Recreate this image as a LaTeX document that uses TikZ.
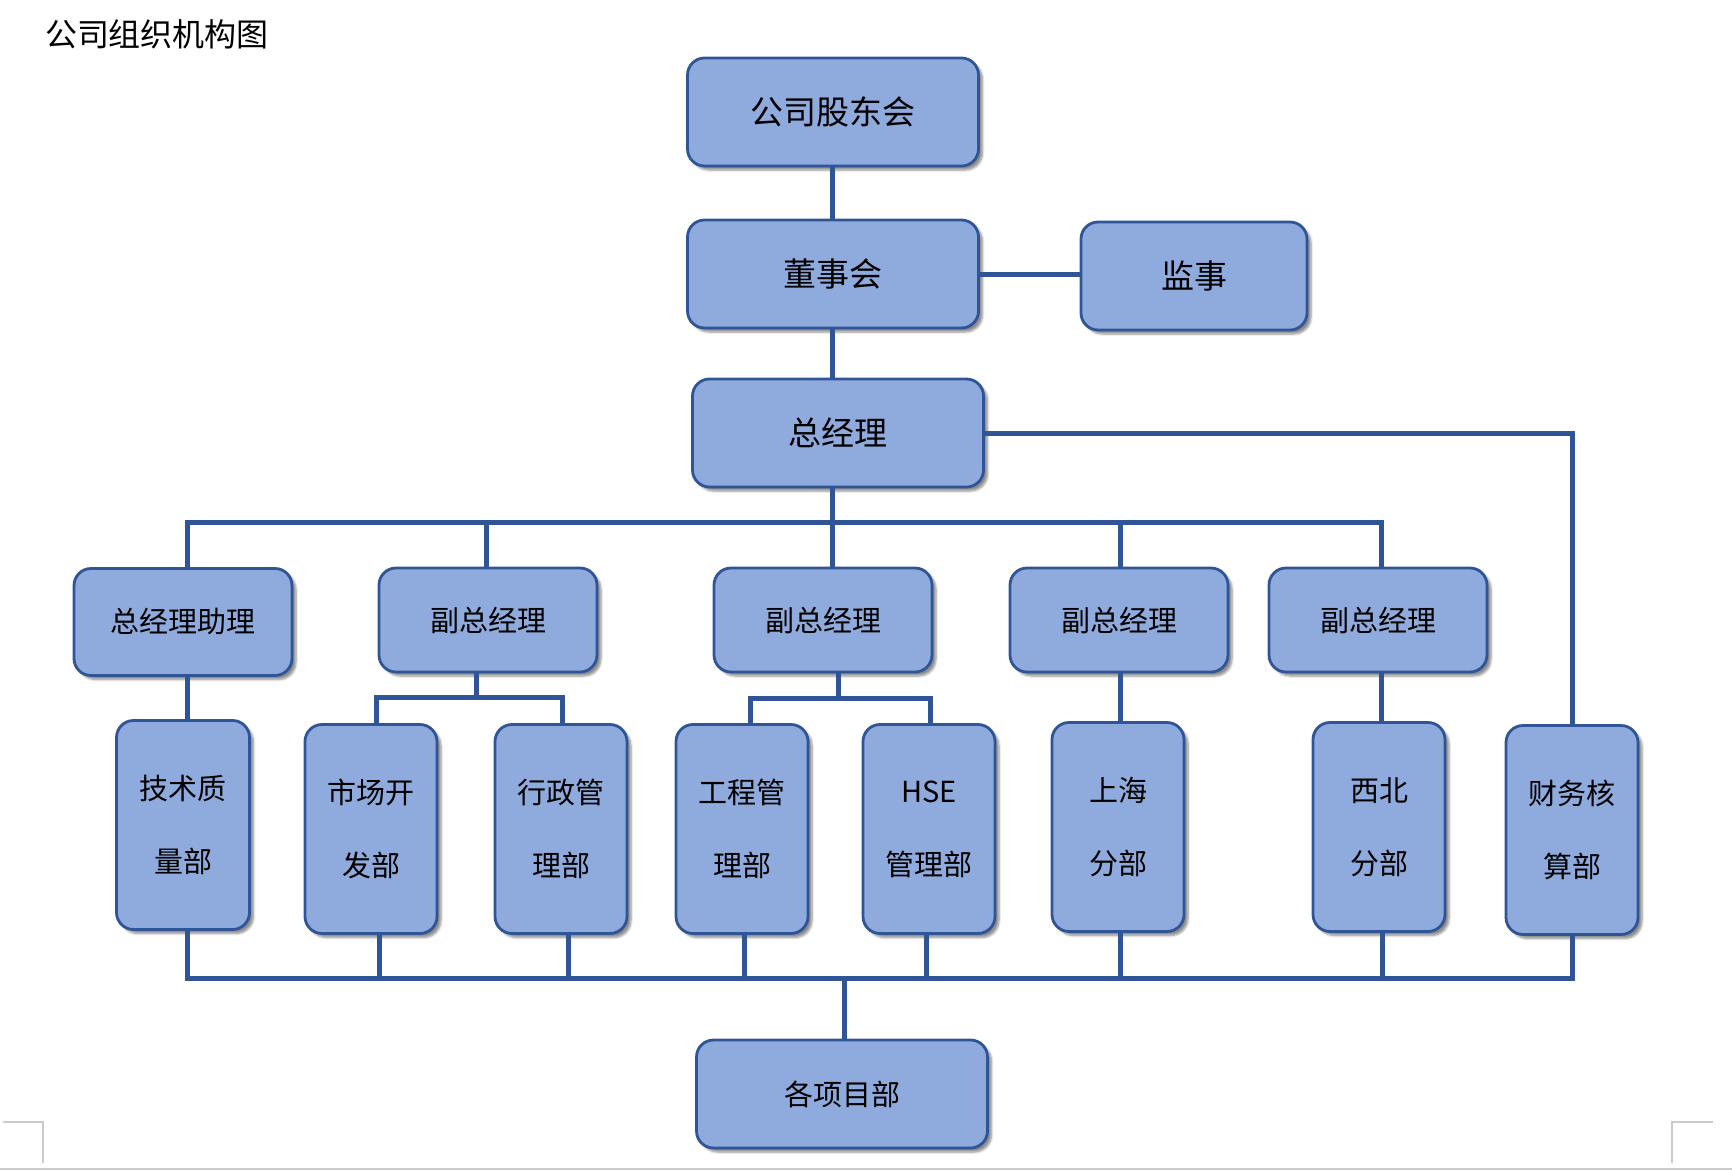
\documentclass[tikz,border=0pt]{standalone}
\usepackage{fontspec}
\setmainfont{Noto Sans CJK SC}
\usepackage{xcolor}
\usepackage{tikz}
\usetikzlibrary{
	calc,
	positioning,
	shadows.blur
}
\definecolor{boxfill}{HTML}{8FAADC}
\definecolor{boxline}{HTML}{2F5597}
\definecolor{pagegray}{HTML}{C8CCCC}
\tikzset{
	orgbox/.style={rectangle,rounded corners=17pt,draw=boxline,line width=2.8pt,fill=boxfill,
		align=center,inner sep=0pt,
		blur shadow={shadow xshift=4pt,shadow yshift=-4pt,shadow blur steps=6,shadow opacity=45}},
	bigbox/.style={orgbox,minimum width=291pt,minimum height=108pt,font=\fontsize{33}{40}\selectfont},
	midbox/.style={orgbox,minimum width=218pt,minimum height=104pt,font=\fontsize{29}{35}\selectfont},
	tallbox/.style={orgbox,minimum width=132pt,minimum height=209pt,font=\fontsize{29}{73}\selectfont},
	link/.style={draw=boxline,line width=5pt},
	cornermark/.style={draw=pagegray,line width=1.5pt}
}
\newcommand{\orgNode}[4][]{\node (#3) at #2 [#1]{#4};}

\begin{document}
\begin{tikzpicture}[x=1pt,y=-1pt]
	\useasboundingbox (0,0) rectangle (1732,1170);
	\node (title) at (157,34) [font=\fontsize{32}{38}\selectfont]{公司组织机构图};

	\orgNode[bigbox]{(833,112)}{gd}{公司股东会}
	\orgNode[bigbox]{(833,274)}{dsh}{董事会}
	\orgNode[bigbox,minimum width=226pt]{(1194,276)}{jsh}{监事}
	\orgNode[bigbox]{(838,433)}{zjl}{总经理}

	\orgNode[midbox,minimum height=107pt]{(183,622)}{zl}{总经理助理}
	\orgNode[midbox]{(488,620)}{fa}{副总经理}
	\orgNode[midbox]{(823,620)}{fb}{副总经理}
	\orgNode[midbox]{(1119,620)}{fc}{副总经理}
	\orgNode[midbox]{(1378,620)}{fd}{副总经理}

	\orgNode[tallbox,minimum width=133pt]{(183,825)}{jszl}{技术质\\量部}
	\orgNode[tallbox]{(371,829)}{sc}{市场开\\发部}
	\orgNode[tallbox]{(561,829)}{xz}{行政管\\理部}
	\orgNode[tallbox]{(742,829)}{gc}{工程管\\理部}
	\orgNode[tallbox]{(929,829)}{hse}{HSE\\管理部}
	\orgNode[tallbox]{(1118,827)}{sh}{上海\\分部}
	\orgNode[tallbox]{(1379,827)}{xb}{西北\\分部}
	\orgNode[tallbox]{(1572,830)}{cw}{财务核\\算部}

	\orgNode[bigbox,font=\fontsize{29}{35}\selectfont]{(842,1094)}{gx}{各项目部}

	\coordinate (bus) at (832,522);
	\coordinate (busa) at (476,697);
	\coordinate (busb) at (838,698);
	\coordinate (bot) at (844,978);

	% top of the chart
	\path[link] (gd.south -| bus) -- (dsh.north -| bus);
	\path[link] (dsh.south -| bus) -- (zjl.north -| bus);
	\path[link] (dsh.east) -- (dsh.east -| jsh.west);
	\path[link] (zjl.east) -| (cw.north);
	\path[link] (zjl.south -| bus) -- (bus) -- (fb.north -| bus);
	\foreach \n/\dx in {zl/4,fa/-2,fc/1,fd/3}
		\path[link] ([xshift=\dx pt]\n.north) |- (bus);

	% departments
	\path[link] ([xshift=4pt]zl.south) -- ([xshift=4pt]jszl.north);
	\path[link] (fa.south -| busa) -- (busa);
	\path[link] ([xshift=5pt]sc.north) |- (busa) -| ([xshift=1pt]xz.north);
	\path[link] (fb.south -| busb) -- (busb);
	\path[link] ([xshift=8pt]gc.north) |- (busb) -| ([xshift=1pt]hse.north);
	\path[link] ([xshift=1pt]fc.south) -- ([xshift=1pt]fc.south |- sh.north);
	\path[link] ([xshift=3pt]fd.south) -- ([xshift=3pt]fd.south |- xb.north);

	% project departments
	\foreach \n/\dx in {jszl/4,sc/8,xz/7,gc/2,hse/-3,sh/2,xb/3,cw/0}
		\path[link] ([xshift=\dx pt]\n.south) |- (bot);
	\path[link] (bot) -- (bot |- gx.north);

	\draw[cornermark] (3,1122) -- (43,1122) -- (43,1163);
	\draw[cornermark] (1672,1163) -- (1672,1122) -- (1713,1122);
	\draw[cornermark] (0,1169) -- (1732,1169);
\end{tikzpicture}
\end{document}
